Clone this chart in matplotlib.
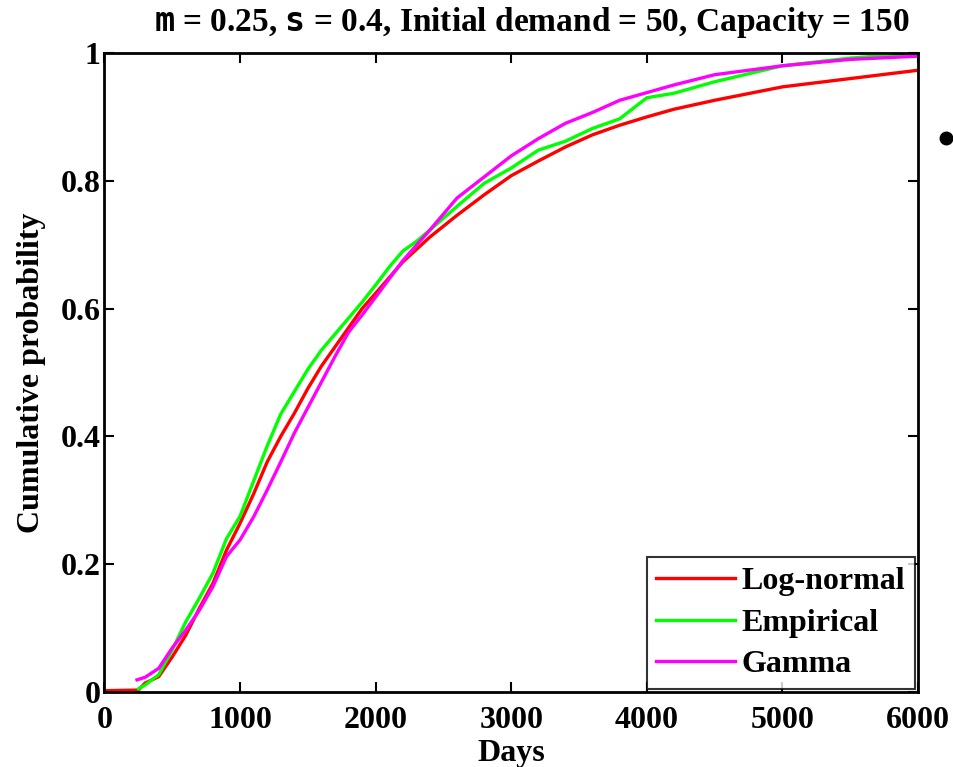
import matplotlib
matplotlib.use("Agg")
import matplotlib.pyplot as plt
from matplotlib.lines import Line2D

# ---- data ----
lognormal_days = [0, 250, 300, 400, 500, 600, 700, 800, 900, 1000, 1100, 1200, 1300, 1400, 1500,
                  1600, 1700, 1800, 1900, 2000, 2200, 2400, 2600, 2800, 3000, 3200, 3400, 3600,
                  3800, 4000, 4200, 4500, 5000, 5500, 6000]
lognormal_prob = [0.002, 0.003, 0.014, 0.024, 0.055, 0.089, 0.131, 0.17, 0.222, 0.264, 0.31, 0.36,
                  0.40, 0.436, 0.475, 0.51, 0.54, 0.57, 0.60, 0.624, 0.673, 0.712, 0.746, 0.778,
                  0.808, 0.831, 0.853, 0.872, 0.887, 0.90, 0.912, 0.926, 0.947, 0.96, 0.973]

empirical_days = [250, 300, 400, 500, 600, 700, 800, 900, 1000, 1100, 1200, 1300, 1400, 1500,
                  1600, 1700, 1800, 1900, 2000, 2100, 2200, 2300, 2400, 2600, 2800, 3000, 3200,
                  3400, 3600, 3800, 4000, 4200, 4500, 5000, 5500, 6000]
empirical_prob = [0.005, 0.011, 0.027, 0.066, 0.11, 0.147, 0.186, 0.24, 0.275, 0.33, 0.385, 0.435,
                  0.47, 0.505, 0.535, 0.56, 0.585, 0.61, 0.637, 0.665, 0.69, 0.705, 0.723, 0.76,
                  0.796, 0.82, 0.848, 0.862, 0.882, 0.897, 0.93, 0.937, 0.955, 0.98, 0.992, 1.0]

gamma_days = [240, 300, 400, 500, 600, 700, 800, 900, 1000, 1100, 1200, 1300, 1400, 1500, 1600,
              1700, 1800, 1900, 2000, 2200, 2400, 2600, 2800, 3000, 3200, 3400, 3600, 3800,
              4000, 4200, 4500, 5000, 5500, 6000]
gamma_prob = [0.019, 0.023, 0.037, 0.069, 0.097, 0.128, 0.165, 0.212, 0.238, 0.274, 0.316, 0.36,
              0.405, 0.445, 0.485, 0.525, 0.563, 0.59, 0.618, 0.675, 0.723, 0.773, 0.806, 0.839,
              0.866, 0.89, 0.907, 0.926, 0.938, 0.95, 0.966, 0.98, 0.99, 0.995]

x_ticks = [0, 1000, 2000, 3000, 4000, 5000, 6000]
y_ticks = [0, 0.2, 0.4, 0.6, 0.8, 1]
y_ticklabels = ["0", "0.2", "0.4", "0.6", "0.8", "1"]

title = r"$\mathtt{m}$ = 0.25, $\mathtt{s}$ = 0.4, Initial demand = 50, Capacity = 150"

plt.rcParams['font.family'] = ['Liberation Serif', 'DejaVu Serif']
plt.rcParams['font.weight'] = 'bold'
plt.rcParams['mathtext.fontset'] = 'dejavusans'

FS = 23

fig = plt.figure(figsize=(9.54, 7.67), dpi=100)
ax = fig.add_axes([0.1095, 0.0978, 0.8528, 0.8331])

lw = 2.4
ax.plot(lognormal_days, lognormal_prob, color='#ff0000', lw=lw, label='Log-normal')
ax.plot(empirical_days, empirical_prob, color='#00ff00', lw=lw, label='Empirical')
ax.plot(gamma_days, gamma_prob, color='#ff00ff', lw=lw, label='Gamma')

ax.set_xlim(0, 6000)
ax.set_ylim(0, 1)
ax.set_xticks(x_ticks)
ax.set_yticks(y_ticks)
ax.set_yticklabels(y_ticklabels)
ax.tick_params(direction='in', top=True, right=True, length=7, width=1.5,
               labelsize=FS)
ax.tick_params(axis='x', pad=10)
ax.tick_params(axis='y', pad=3)
for lab in ax.get_xticklabels() + ax.get_yticklabels():
    lab.set_fontweight('bold')
for sp in ax.spines.values():
    sp.set_linewidth(2)

ax.set_xlabel('Days', fontsize=FS, fontweight='bold', labelpad=3)
ax.set_ylabel('Cumulative probability', fontsize=FS, fontweight='bold', labelpad=10)
ax.set_title(title, fontsize=24, fontweight='bold', pad=16)
ax.title.set_x(0.525)

leg = ax.legend(loc='lower right', fontsize=FS, frameon=True, fancybox=False,
                edgecolor='black', handlelength=2.45, borderaxespad=0.1,
                labelspacing=0.38, handletextpad=0.22, borderpad=0.3)
leg.get_frame().set_linewidth(1.5)
for t in leg.get_texts():
    t.set_fontweight('bold')

fig.add_artist(Line2D([0.9913], [0.8205], marker='o', color='black',
                      markersize=9, transform=fig.transFigure))

fig.savefig('out.png', dpi=100, facecolor='white')
